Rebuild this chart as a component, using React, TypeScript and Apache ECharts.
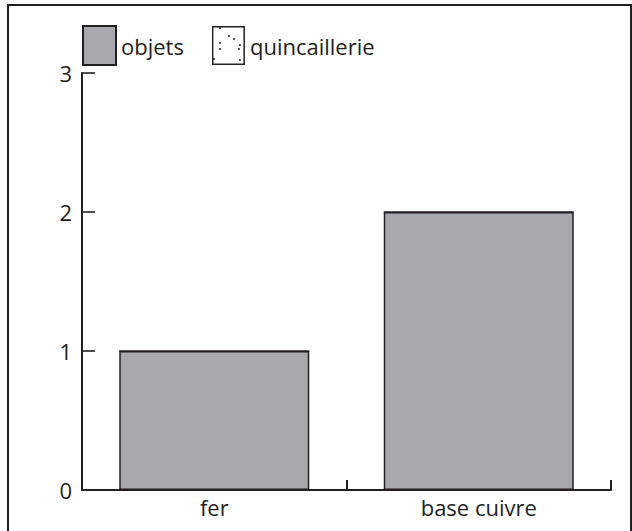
import React, { useEffect, useRef } from "react";
import * as echarts from "echarts";

const categories = ["fer", "base cuivre"];
const objets = [1, 2];
const quincaillerie = [0, 0];
const yTicks = [0, 1, 2, 3];

const FONT = "Open Sans";
const INK = "#231f20";

const dots = [
  [8, 2], [17, 10], [22, 13], [8, 17], [28, 19],
  [8, 23], [27, 23], [2, 33], [28, 34],
];
const dottedIcon =
  "image://data:image/svg+xml;charset=utf-8," +
  encodeURIComponent(
    `<svg xmlns="http://www.w3.org/2000/svg" width="33" height="39" viewBox="0 0 33 39">` +
      `<rect x="0.75" y="0.75" width="31.5" height="37.5" fill="#ffffff" stroke="${INK}" stroke-width="1.5"/>` +
      dots.map(([x, y]) => `<circle cx="${x}" cy="${y}" r="1" fill="${INK}"/>`).join("") +
      `</svg>`
  );

export default function App() {
  const ref = useRef<HTMLDivElement>(null);
  useEffect(() => {
    if (!ref.current) return;
    const chart = echarts.init(ref.current, undefined, { renderer: "svg" });
    chart.setOption({
      animation: false,
      backgroundColor: "#ffffff",
      textStyle: { fontFamily: FONT, color: INK },
      grid: { left: 82, top: 73, right: 21, bottom: 41 },
      legend: {
        left: 82,
        top: 25,
        padding: 0,
        itemWidth: 33,
        itemHeight: 39,
        itemGap: 28,
        icon: "rect",
        textStyle: { fontFamily: FONT, fontSize: 22, color: INK },
        data: [{ name: "objets" }, { name: "quincaillerie", icon: dottedIcon }],
      },
      xAxis: [
        {
          type: "category",
          data: categories,
          boundaryGap: true,
          axisLine: { show: true, lineStyle: { color: INK, width: 2 } },
          axisTick: { show: true, inside: true, length: 10, lineStyle: { color: INK, width: 2 } },
          axisLabel: { fontFamily: FONT, fontSize: 22, color: INK, margin: 6 },
          splitLine: { show: false },
        },
        {
          type: "value",
          min: 0,
          max: 1,
          show: false,
        },
      ],
      yAxis: {
        type: "value",
        min: yTicks[0],
        max: yTicks[yTicks.length - 1],
        interval: 1,
        axisLine: { show: true, lineStyle: { color: INK, width: 2 } },
        axisTick: { show: false },
        axisLabel: { fontFamily: FONT, fontSize: 22, color: INK, margin: 10 },
        splitLine: { show: false },
      },
      series: [
        {
          name: "objets",
          type: "bar",
          stack: "s",
          data: objets,
          barWidth: 190,
          itemStyle: { color: "#a7a9ac", borderColor: INK, borderWidth: 1.5 },
        },
        {
          name: "quincaillerie",
          type: "bar",
          stack: "s",
          data: quincaillerie,
          barWidth: 190,
          itemStyle: { color: "#ffffff", borderColor: INK, borderWidth: 1.5 },
        },
        {
          name: "yticks",
          type: "scatter",
          xAxisIndex: 1,
          yAxisIndex: 0,
          clip: false,
          z: 10,
          symbol: "rect",
          symbolSize: [13, 2],
          symbolOffset: [6.5, 0],
          itemStyle: { color: INK },
          emphasis: { disabled: true },
          data: yTicks.slice(1).map((v) => [0, v]),
        },
      ],
    });
    return () => chart.dispose();
  }, []);
  return (
    <div style={{ position: "fixed", left: 0, top: 0, width: 632, height: 531 }}>
      <div ref={ref} style={{ position: "absolute", left: 0, top: 0, width: 632, height: 531 }} />
      <div
        style={{
          position: "absolute",
          left: 7,
          top: 4,
          width: 621,
          height: 540,
          border: `2px solid ${INK}`,
          pointerEvents: "none",
        }}
      />
    </div>
  );
}
